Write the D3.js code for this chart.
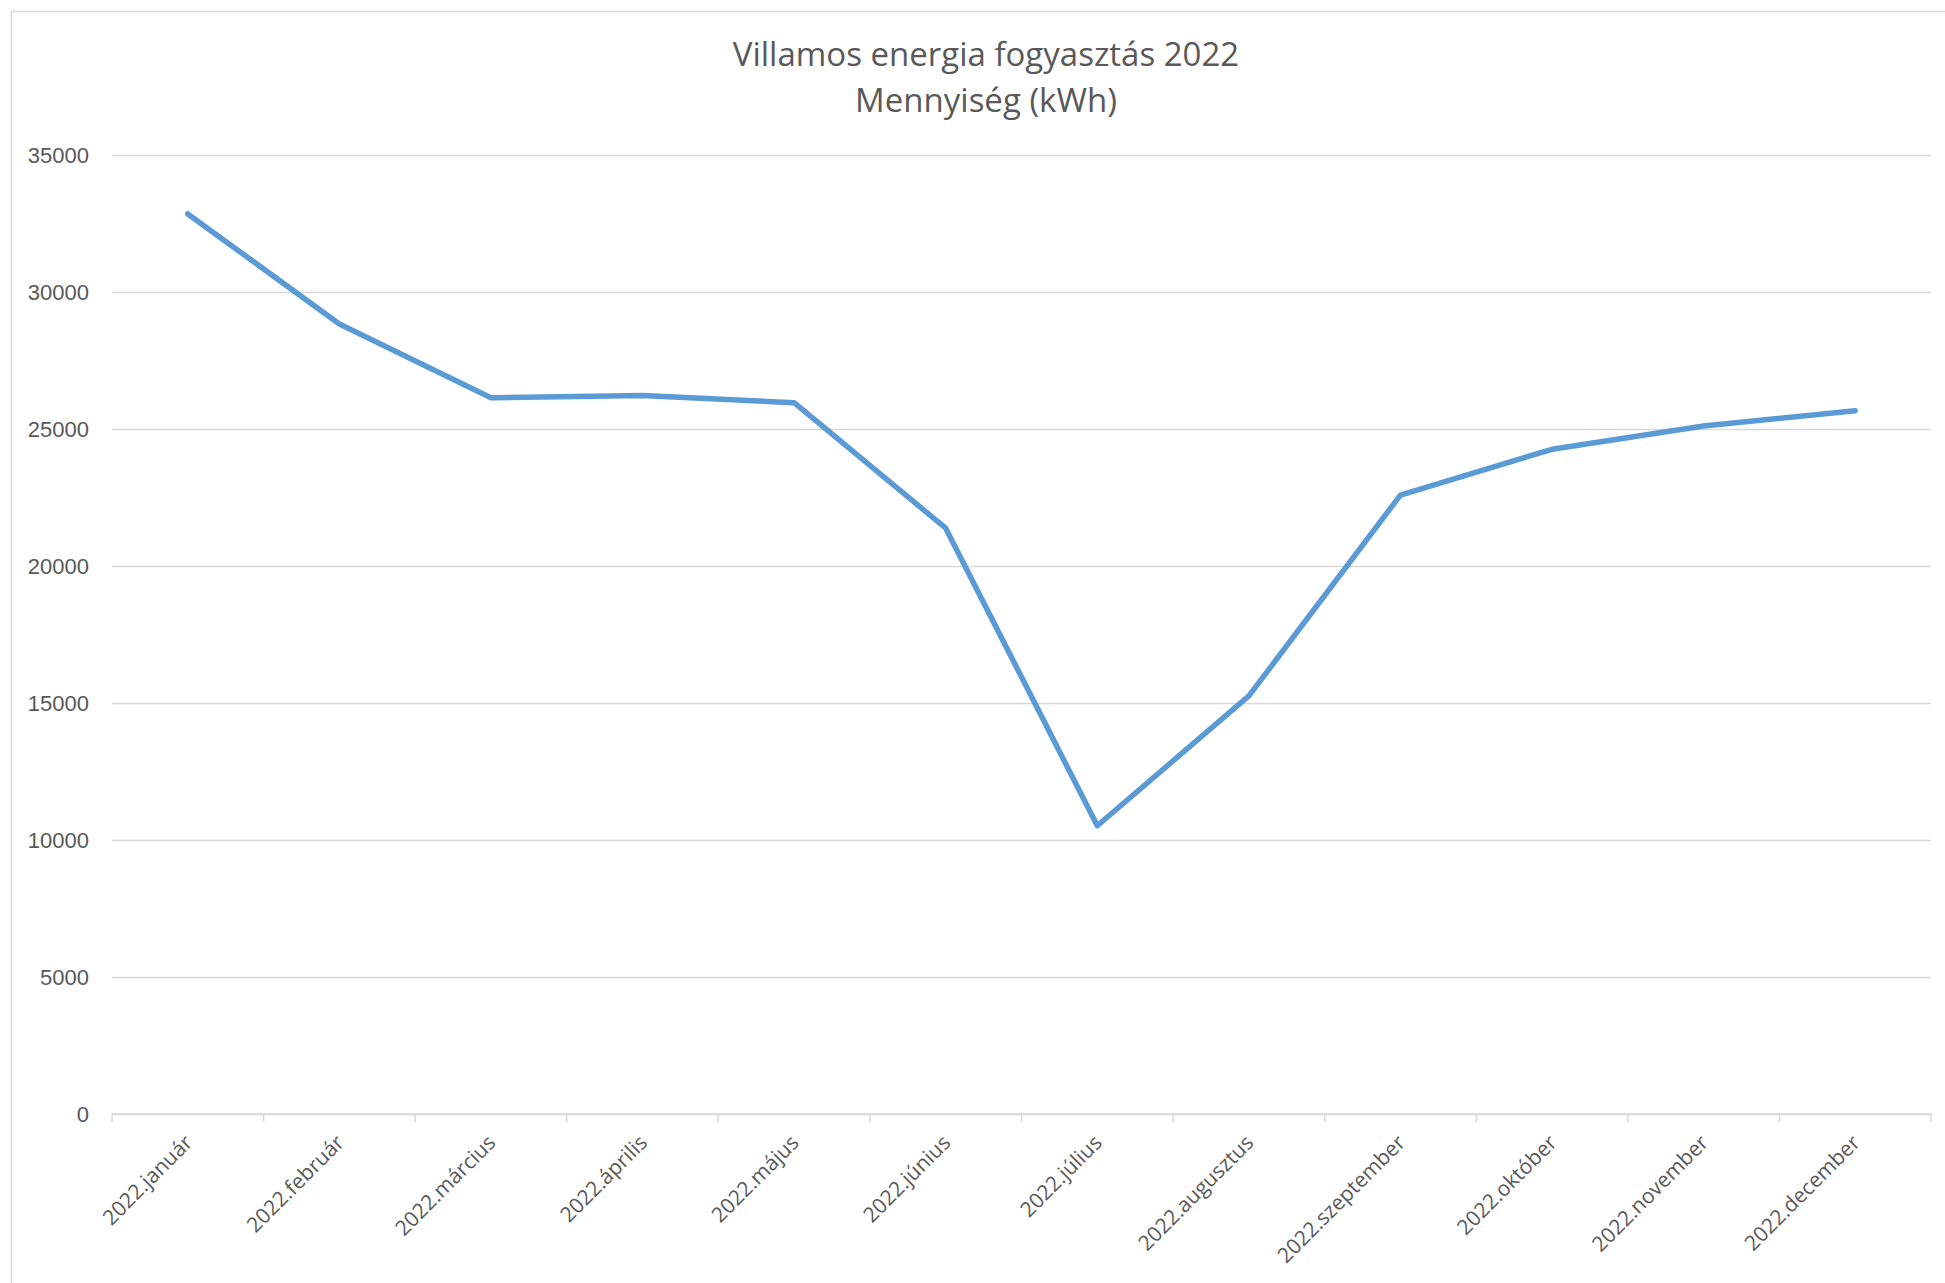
<!DOCTYPE html>
<html>
<head>
<meta charset="utf-8">
<script src="https://cdn.jsdelivr.net/npm/d3@7"></script>
<style>
  html, body { margin: 0; padding: 0; background: #fff; }
  svg { display: block; font-family: "Open Sans", "Noto Sans", sans-serif; }
</style>
</head>
<body>
<div id="chart"></div>
<script>
// monthly values (kWh)
const months = [
  "2022.január", "2022.február", "2022.március", "2022.április",
  "2022.május", "2022.június", "2022.július", "2022.augusztus",
  "2022.szeptember", "2022.október", "2022.november", "2022.december"
];
const consumption = [32850, 28830, 26140, 26220, 25960, 21380, 10520, 15260, 22590, 24260, 25110, 25670];
const yTicks = [0, 5000, 10000, 15000, 20000, 25000, 30000, 35000];
const titleLines = ["Villamos energia fogyasztás 2022", "Mennyiség (kWh)"];

const W = 1945, H = 1283;
const margin = { top: 155, right: 14, bottom: 169, left: 112 };
const textColor = "#595959";
const gridColor = "#d9d9d9";

const svg = d3.select("#chart").append("svg")
  .attr("width", W)
  .attr("height", H);

// chart area border (right and bottom run off the picture)
svg.append("rect")
  .attr("x", 11.5).attr("y", 11.5)
  .attr("width", W).attr("height", H)
  .attr("fill", "none")
  .attr("stroke", gridColor)
  .attr("stroke-width", 1.5);

const x = d3.scaleBand()
  .domain(months)
  .range([margin.left, W - margin.right]);

const y = d3.scaleLinear()
  .domain([0, 35000])
  .range([H - margin.bottom, margin.top]);

// gridlines + y labels
const yAxis = svg.append("g")
  .attr("transform", `translate(${margin.left},0)`)
  .call(d3.axisLeft(y).tickValues(yTicks).tickSize(-(W - margin.right - margin.left)).tickPadding(23).tickFormat(d3.format("d")));
yAxis.select(".domain").remove();
yAxis.selectAll(".tick line")
  .attr("stroke", gridColor)
  .attr("stroke-width", 1.5);
yAxis.selectAll(".tick text")
  .attr("fill", textColor)
  .style("font-size", "22px");

// category axis: line plus ticks at band edges
const xg = svg.append("g")
  .attr("transform", `translate(0,${y(0)})`);
xg.append("line")
  .attr("x1", margin.left).attr("x2", W - margin.right)
  .attr("stroke", gridColor).attr("stroke-width", 1.5);
const edges = months.map(m => x(m)).concat([x.range()[1]]);
xg.selectAll("line.edge")
  .data(edges)
  .join("line")
  .attr("class", "edge")
  .attr("x1", d => d).attr("x2", d => d)
  .attr("y1", 0).attr("y2", 8)
  .attr("stroke", gridColor).attr("stroke-width", 1.5);
xg.selectAll("text")
  .data(months)
  .join("text")
  .attr("transform", d => `translate(${x(d) + x.bandwidth() / 2 + 6},${30}) rotate(-45)`)
  .attr("text-anchor", "end")
  .attr("fill", textColor)
  .style("font-size", "21px")
  .text(d => d);

// line
const line = d3.line()
  .x((d, i) => x(months[i]) + x.bandwidth() / 2)
  .y(d => y(d));

svg.append("path")
  .datum(consumption)
  .attr("d", line)
  .attr("fill", "none")
  .attr("stroke", "#5b9bd5")
  .attr("stroke-width", 5.5)
  .attr("stroke-linejoin", "round")
  .attr("stroke-linecap", "round");

// title
svg.append("text")
  .attr("x", 986).attr("y", 66)
  .attr("text-anchor", "middle")
  .attr("fill", textColor)
  .style("font-size", "33px")
  .selectAll("tspan")
  .data(titleLines)
  .join("tspan")
  .attr("x", 986)
  .attr("dy", (d, i) => i === 0 ? 0 : 46)
  .text(d => d);
</script>
</body>
</html>
